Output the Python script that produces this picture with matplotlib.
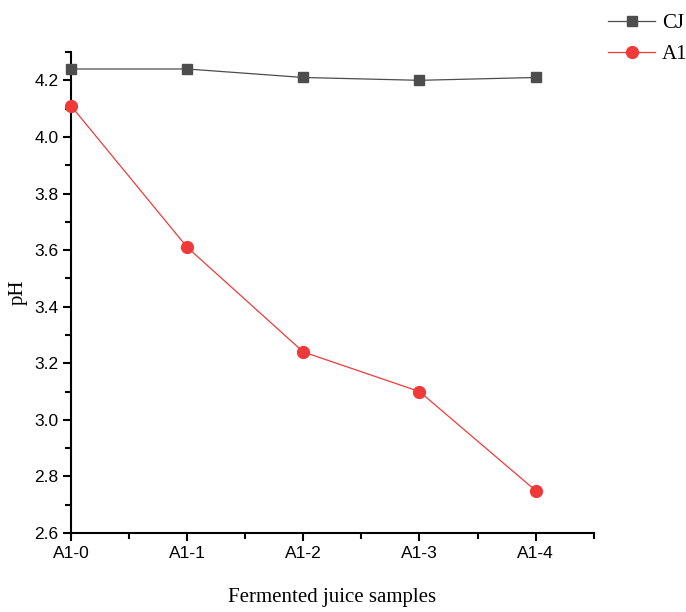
import matplotlib
matplotlib.use("Agg")
import matplotlib.pyplot as plt
from matplotlib.ticker import MultipleLocator

categories = ["A1-0", "A1-1", "A1-2", "A1-3", "A1-4"]
cj_values = [4.24, 4.24, 4.21, 4.20, 4.21]
cj_err = [0.005, 0.005, 0.005, 0.005, 0.005]
a1_values = [4.11, 3.61, 3.24, 3.10, 2.75]
a1_err = [0.005, 0.005, 0.005, 0.015, 0.005]

fig = plt.figure(figsize=(6.86, 6.12), dpi=100)
ax = fig.add_axes([0.1035, 0.129, 0.762, 0.786])

x = list(range(len(categories)))
cj_color = "#4d4d4d"
a1_color = "#f03a3a"
ax.errorbar(x, cj_values, yerr=cj_err, fmt="none", ecolor=cj_color, elinewidth=0.8,
            capsize=0, clip_on=False, zorder=2)
ax.errorbar(x, a1_values, yerr=a1_err, fmt="none", ecolor=a1_color, elinewidth=0.8,
            capsize=0, clip_on=False, zorder=2)
ax.plot(x, cj_values, color=cj_color, marker="s", markersize=7, linewidth=0.9,
        label="CJ", clip_on=False, zorder=3)
ax.plot(x, a1_values, color=a1_color, marker="o", markersize=8.5, linewidth=0.9,
        label="A1", clip_on=False, zorder=3)

ax.set_xlim(0, 4.5)
ax.set_ylim(2.6, 4.3)
ax.set_xticks(x)
ax.set_xticklabels(categories, fontfamily="Liberation Sans", fontsize=12.5)
ax.xaxis.set_minor_locator(MultipleLocator(0.5))
ax.yaxis.set_minor_locator(MultipleLocator(0.1))
ax.set_yticks([2.6, 2.8, 3.0, 3.2, 3.4, 3.6, 3.8, 4.0, 4.2])
ax.set_yticklabels(["2.6", "2.8", "3.0", "3.2", "3.4", "3.6", "3.8", "4.0", "4.2"],
                   fontfamily="Liberation Sans", fontsize=12.5)

ax.spines["top"].set_visible(False)
ax.spines["right"].set_visible(False)
for s in ("left", "bottom"):
    ax.spines[s].set_linewidth(1.5)
ax.tick_params(which="major", direction="out", length=6, width=1.5, pad=3)
ax.tick_params(which="minor", direction="out", length=4, width=1.5)

ax.set_xlabel("Fermented juice samples", fontfamily="Liberation Serif", fontsize=15, labelpad=20)
ax.set_ylabel("pH", fontfamily="Liberation Serif", fontsize=15, labelpad=5)

fig.legend(loc="upper right", bbox_to_anchor=(1.02, 0.998), frameon=False,
           prop={"family": "Liberation Serif", "size": 15}, handlelength=2.3,
           handletextpad=0.3, labelspacing=0.55, borderaxespad=0.2)

fig.savefig("out.png", dpi=100)
